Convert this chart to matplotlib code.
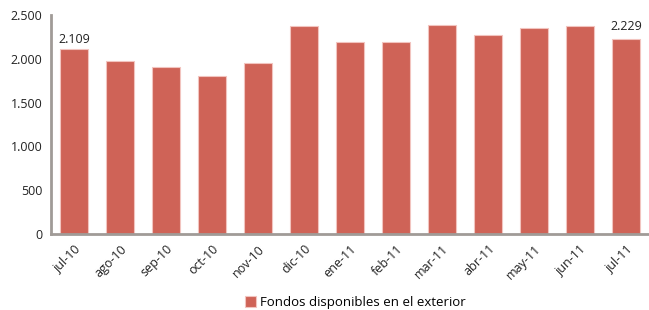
import matplotlib.pyplot as plt

meses = ['jul-10', 'ago-10', 'sep-10', 'oct-10', 'nov-10', 'dic-10', 'ene-11',
         'feb-11', 'mar-11', 'abr-11', 'may-11', 'jun-11', 'jul-11']
fondos = [2109, 1975, 1906, 1804, 1955, 2374, 2192, 2192, 2386, 2272, 2352, 2374, 2229]
yticks = [0, 500, 1000, 1500, 2000, 2500]
ytick_labels = ['0', '500', '1.000', '1.500', '2.000', '2.500']

plt.rcParams['font.family'] = ['Open Sans', 'DejaVu Sans']

fig = plt.figure(figsize=(6.49, 3.10), dpi=100)
ax = fig.add_axes([51 / 649, 1 - 234 / 310, 598 / 649, 219 / 310])

x = list(range(len(meses)))
bars = ax.bar(x, fondos, width=0.6, color='#cf6357', edgecolor='#f2c4bf',
              linewidth=0.8, label='Fondos disponibles en el exterior')

# etiquetas del primer y último valor
ax.text(x[0], fondos[0] + 40, '2.109', ha='center', va='bottom', fontsize=9, color='#222222')
ax.text(x[-1], fondos[-1] + 70, '2.229', ha='center', va='bottom', fontsize=9, color='#222222')

ax.set_xlim(-0.5, len(meses) - 0.5)
ax.set_ylim(0, 2500)
ax.set_yticks(yticks)
ax.set_yticklabels(ytick_labels, fontsize=9, color='#222222')
ax.set_xticks(x)
ax.set_xticklabels(meses, rotation=45, ha='right', rotation_mode='anchor',
                   fontsize=9, color='#222222')
ax.tick_params(length=0, pad=6)

for s in ['top', 'right']:
    ax.spines[s].set_visible(False)
for s in ['left', 'bottom']:
    ax.spines[s].set_color('#a09b97')
    ax.spines[s].set_linewidth(2)

fig.legend(handles=[bars], loc='upper left', bbox_to_anchor=(238 / 649, 1 - 289 / 310),
           frameon=False, fontsize=9.5, handlelength=0.9, handleheight=1.0,
           handletextpad=0.3, borderpad=0)

fig.savefig('out.png', dpi=100)
